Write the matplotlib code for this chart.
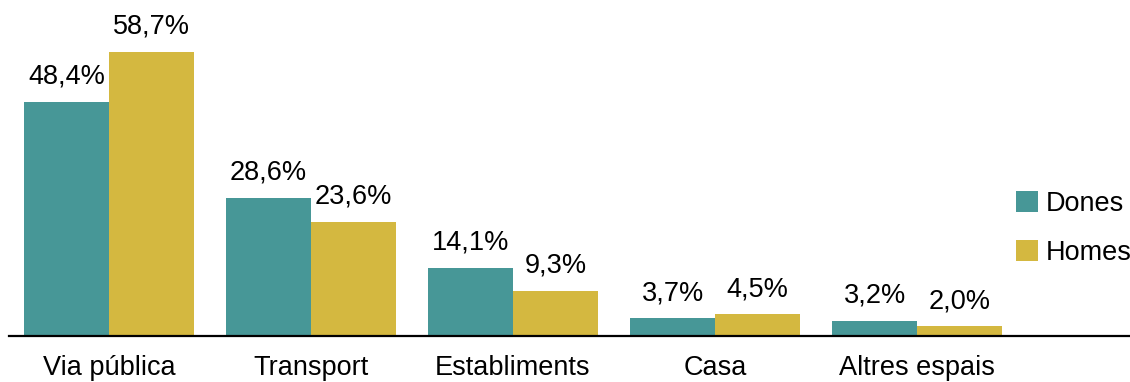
import numpy as np
import matplotlib
matplotlib.use("Agg")
import matplotlib.pyplot as plt
from matplotlib.patches import Patch

categories = ["Via pública", "Transport", "Establiments", "Casa", "Altres espais"]
dones = [48.4, 28.6, 14.1, 3.7, 3.2]
homes = [58.7, 23.6, 9.3, 4.5, 2.0]
series_names = ["Dones", "Homes"]

teal = "#479797"
gold = "#d4b840"

plt.rcParams['font.family'] = ['Liberation Sans', 'DejaVu Sans']
fsize = 19.5

W, H = 1130, 382
fig = plt.figure(figsize=(W / 100, H / 100), dpi=100)
ax = fig.add_axes([9 / W, (H - 336) / H, 1121 / W, 336 / H])

x = np.arange(len(categories))
width = 0.42

b1 = ax.bar(x - width / 2, dones, width, color=teal, label=series_names[0])
b2 = ax.bar(x + width / 2, homes, width, color=gold, label=series_names[1])

def fmt(v):
    return f"{v:.1f}%".replace(".", ",")

for bars, vals in ((b1, dones), (b2, homes)):
    for rect, v in zip(bars, vals):
        ax.annotate(fmt(v), (rect.get_x() + rect.get_width() / 2, v),
                    xytext=(0, 13), textcoords="offset points",
                    ha="center", va="baseline", fontsize=fsize)

ax.set_xlim(-0.495, -0.495 + 1121 / 202)
ax.set_ylim(0, 336 / 4.838)
ax.set_xticks(x)
ax.set_xticklabels(categories, fontsize=fsize)
ax.tick_params(axis="x", length=0, pad=13.5)
ax.set_yticks([])
for s in ["top", "right", "left"]:
    ax.spines[s].set_visible(False)
ax.spines["bottom"].set_linewidth(1.6)
ax.spines["bottom"].set_color("black")

handles = [Patch(facecolor=teal), Patch(facecolor=gold)]
ax.legend(handles, series_names, loc="upper left", bbox_to_anchor=(1016 / W, 1 - 191 / H),
          bbox_transform=fig.transFigure, frameon=False, fontsize=fsize,
          handlelength=0.82, handleheight=0.82, handletextpad=0.28,
          labelspacing=0.86, borderpad=0, borderaxespad=0)

fig.savefig("out.png", dpi=100)
